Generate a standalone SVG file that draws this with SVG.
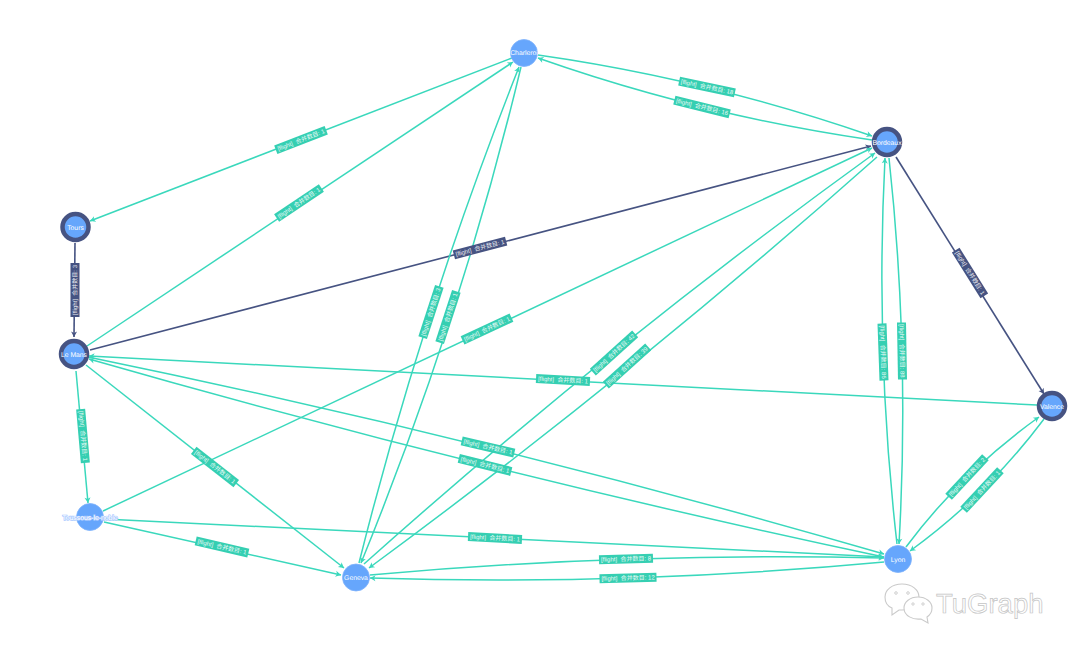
<svg xmlns="http://www.w3.org/2000/svg" width="1080" height="655" viewBox="0 0 1080 655">
<style>
text{font-family:"Liberation Sans","Noto Sans CJK SC",sans-serif;text-rendering:geometricPrecision}
.e{fill:none;stroke:#3ad8bc;stroke-width:1.5}
.t{marker-end:url(#at)}
.d{fill:none;stroke:#465382;stroke-width:1.6;marker-end:url(#ad)}
.l rect{fill:#35cfb2;x:-27px;y:-4.5px;width:54px;height:9px}
.l.w rect{x:-28.5px;width:57px}
.l.k rect{fill:#465382}
.l text{fill:#fff;font-size:6px;text-anchor:middle;white-space:pre;opacity:.9}
.n{fill:#66a6fc;stroke:#7fb3fb;stroke-width:.8}
.n.o{stroke:#465382;stroke-width:4.5}
.nt{fill:#fff;font-size:6.8px;text-anchor:middle}
.h{paint-order:stroke;stroke:#a9c9ff;stroke-width:1.4px}
.b{fill:#fff;stroke:#cacaca;stroke-width:1.1}
</style>
<defs>
<marker id="at" markerUnits="userSpaceOnUse" markerWidth="8" markerHeight="8" refX="6.5" refY="4" orient="auto"><path d="M1,1 L6.5,4 L1,7 L2.5,4Z" fill="#3ad8bc"/></marker>
<marker id="ad" markerUnits="userSpaceOnUse" markerWidth="8" markerHeight="8" refX="6.5" refY="4" orient="auto"><path d="M1,1 L6.5,4 L1,7 L2.5,4Z" fill="#465382"/></marker>
</defs>
<rect width="1080" height="655" fill="#fff"/>
<g id="connectors">
<path class="e t" d="M512,58 L90,221"/>
<path class="e t" d="M87,346 L513,62"/>
<path class="e t" d="M538,55 Q707,79 872,136"/>
<path class="e t" d="M872,140 Q700,115 538,58"/>
<path class="d" d="M75,243 L74,337"/>
<path class="d" d="M90,350 L871,146"/>
<path class="d" d="M896,157 L1044,394"/>
<path class="e t" d="M103,511 L872,148"/>
<path class="e t" d="M364,564 Q608,346 875,153"/>
<path class="e t" d="M877,157 Q634,373 369,568"/>
<path class="e t" d="M359,563 Q421,315 519,67"/>
<path class="e t" d="M521,67 Q461,318 361,563"/>
<path class="e t" d="M897,544 Q875,352 885,158"/>
<path class="e t" d="M889,158 Q910,351 899,544"/>
<path class="e t" d="M1037,405 L89,356"/>
<path class="e t" d="M88,357 Q491,440 884,554"/>
<path class="e t" d="M884,557 Q483,472 89,359"/>
<path class="e t" d="M76,371 L88,503"/>
<path class="e t" d="M86,365 L344,568"/>
<path class="e t" d="M104,522 L341,575"/>
<path class="e t" d="M104,519 L884,557"/>
<path class="e t" d="M370,575 Q626,552 884,558"/>
<path class="e t" d="M884,562 Q627,586 370,578"/>
<path class="e t" d="M906,547 Q962,472 1039,417"/>
<path class="e t" d="M1044,419 Q987,495 910,551"/>
<g class="l" transform="translate(301,140) rotate(-21)"><rect/><text y="2">[flight]  合并数目: 1</text></g>
<g class="l" transform="translate(299,203) rotate(-34)"><rect/><text y="2">[flight]  合并数目: 1</text></g>
<g class="l w" transform="translate(707,87) rotate(12)"><rect/><text y="2">[flight]  合并数目: 18</text></g>
<g class="l w" transform="translate(702,107) rotate(14)"><rect/><text y="2">[flight]  合并数目: 16</text></g>
<g class="l k" transform="translate(75,290) rotate(-90)"><rect/><text y="2">[flight]  合并数目: 3</text></g>
<g class="l k" transform="translate(480,248) rotate(-14.6)"><rect/><text y="2">[flight]  合并数目: 1</text></g>
<g class="l k" transform="translate(970,273) rotate(58)"><rect/><text y="2">[flight]  合并数目: 1</text></g>
<g class="l" transform="translate(487,329) rotate(-25)"><rect/><text y="2">[flight]  合并数目: 1</text></g>
<g class="l w" transform="translate(614,353) rotate(-42)"><rect/><text y="2">[flight]  合并数目: 42</text></g>
<g class="l w" transform="translate(627,366) rotate(-42)"><rect/><text y="2">[flight]  合并数目: 39</text></g>
<g class="l" transform="translate(431,312) rotate(-72)"><rect/><text y="2">[flight]  合并数目: 3</text></g>
<g class="l" transform="translate(448,317) rotate(-72)"><rect/><text y="2">[flight]  合并数目: 1</text></g>
<g class="l w" transform="translate(883,352) rotate(88)"><rect/><text y="2">[flight]  合并数目: 86</text></g>
<g class="l w" transform="translate(902,351) rotate(89)"><rect/><text y="2">[flight]  合并数目: 88</text></g>
<g class="l" transform="translate(563,380) rotate(3)"><rect/><text y="2">[flight]  合并数目: 1</text></g>
<g class="l" transform="translate(488,447) rotate(13)"><rect/><text y="2">[flight]  合并数目: 1</text></g>
<g class="l" transform="translate(485,465) rotate(14)"><rect/><text y="2">[flight]  合并数目: 1</text></g>
<g class="l" transform="translate(83,436) rotate(85)"><rect/><text y="2">[flight]  合并数目: 1</text></g>
<g class="l" transform="translate(215,467) rotate(38)"><rect/><text y="2">[flight]  合并数目: 1</text></g>
<g class="l" transform="translate(222,547) rotate(13)"><rect/><text y="2">[flight]  合并数目: 1</text></g>
<g class="l" transform="translate(495,538) rotate(3)"><rect/><text y="2">[flight]  合并数目: 1</text></g>
<g class="l" transform="translate(626,559) rotate(-1.5)"><rect/><text y="2">[flight]  合并数目: 8</text></g>
<g class="l w" transform="translate(628,578) rotate(-1.5)"><rect/><text y="2">[flight]  合并数目: 12</text></g>
<g class="l" transform="translate(967,477) rotate(-47)"><rect/><text y="2">[flight]  合并数目: 2</text></g>
<g class="l" transform="translate(982,490) rotate(-47)"><rect/><text y="2">[flight]  合并数目: 1</text></g>
</g>
<g id="node-charleroi"><circle class="n" cx="524" cy="53" r="13.5"/><text class="nt" x="524" y="55">Charleroi</text></g>
<g id="node-bordeaux"><circle class="n o" cx="887" cy="142" r="13"/><text class="nt" x="887" y="145">Bordeaux</text></g>
<g id="node-tours"><circle class="n o" cx="75.500" cy="227" r="13"/><text class="nt" x="75.500" y="229.500">Tours</text></g>
<g id="node-le-mans"><circle class="n o" cx="74" cy="354" r="13"/><text class="nt" x="74" y="356.500">Le Mans</text></g>
<g id="node-toussous"><circle class="n" cx="90" cy="517" r="13.500"/><text class="nt h" x="90" y="519.500">Toussous-le-noble</text></g>
<g id="node-geneva"><circle class="n" cx="356" cy="577.500" r="13.500"/><text class="nt" x="356" y="580">Geneva</text></g>
<g id="node-lyon"><circle class="n" cx="898" cy="559" r="13.500"/><text class="nt" x="898" y="561.500">Lyon</text></g>
<g id="node-valence"><circle class="n o" cx="1052" cy="406" r="13"/><text class="nt" x="1052" y="408.500">Valence</text></g>
<g id="watermark">
<path class="b" d="M902,584 C912,584 919,590 919,597 C919,604 912,610 902,610 L899,610 L892,615 L892,608 C887,606 885,602 885,597 C885,590 892,584 902,584Z"/>
<path class="b" d="M918,597 C926,597 932,602 932,608 C932,612 930,615 927,617 L928,623 L921,619 C913,620 904,616 904,608 C904,602 910,597 918,597Z"/>
<circle cx="896" cy="593" r="1.300" fill="#fff" stroke="#bbb" stroke-width=".7"/>
<circle cx="908" cy="593" r="1.300" fill="#fff" stroke="#bbb" stroke-width=".7"/>
<circle cx="913" cy="604" r="1.200" fill="#fff" stroke="#bbb" stroke-width=".7"/>
<circle cx="923" cy="604" r="1.200" fill="#fff" stroke="#bbb" stroke-width=".7"/>
<text x="936" y="613" font-size="27.500" fill="#fff" stroke="#c4c4c4" stroke-width=".7">TuGraph</text>
</g>
</svg>
